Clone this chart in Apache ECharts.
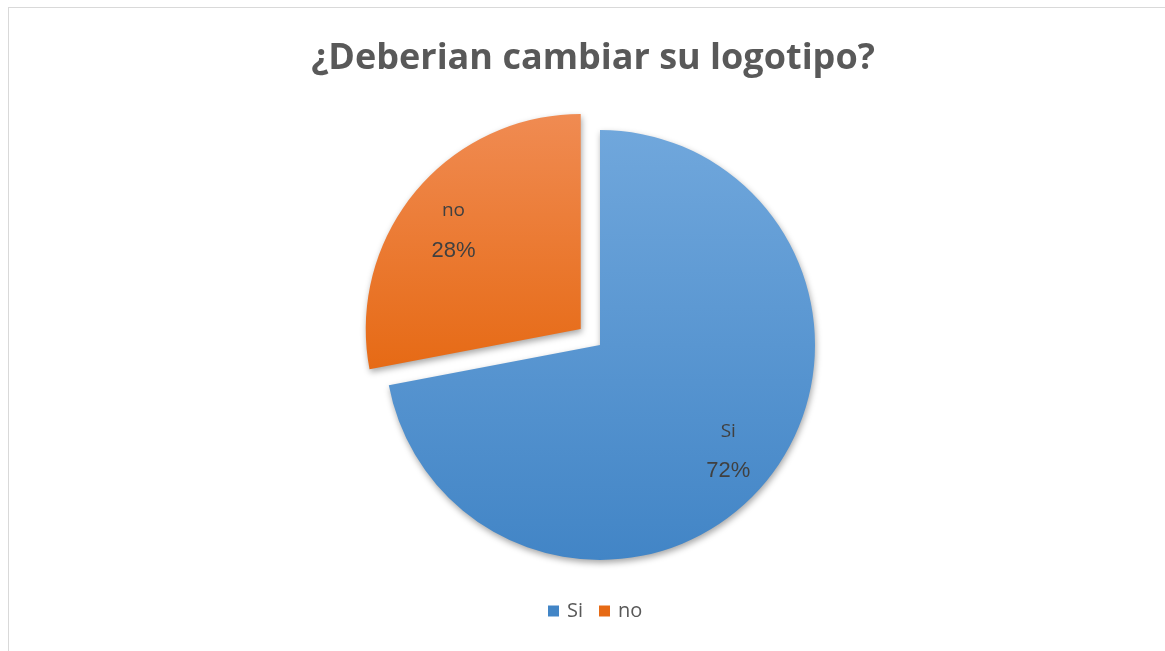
<!DOCTYPE html>
<html><head><meta charset="utf-8">
<script src="https://cdn.jsdelivr.net/npm/echarts@6/dist/echarts.min.js"></script>
<style>html,body{margin:0;padding:0;background:#fff}#c{width:1165px;height:651px}
#frame{position:absolute;left:8px;top:7px;width:1200px;height:700px;border-left:1px solid #d9d9d9;border-top:1px solid #d9d9d9;pointer-events:none}</style>
</head><body><div id="c"></div><div id="frame"></div>
<script>
var titleText = '¿Deberian cambiar su logotipo?';
var categories = ['Si', 'no'];
var values = [72, 28];
var explodedCategory = 'no';

var gradients = {
  'Si': ['#70a7dc', '#4285c6'],
  'no': ['#f08b52', '#e66a15']
};
function grad(name) {
  return new echarts.graphic.LinearGradient(0, 0, 0, 1, [
    {offset: 0, color: gradients[name][0]},
    {offset: 1, color: gradients[name][1]}
  ]);
}
var pieData = categories.map(function (c, i) {
  return {name: c, value: values[i], selected: c === explodedCategory,
    itemStyle: {color: grad(c)}};
});
var labelData = categories.map(function (c, i) {
  var sel = c === explodedCategory;
  var off = sel ? [1, 8] : [0, 0];
  return {name: c, value: values[i], selected: sel,
    label: {offset: off}, select: {label: {offset: off}}};
});

var chart = echarts.init(document.getElementById('c'));
chart.setOption({
  animation: false,
  title: {
    text: titleText, left: 588, top: 36, textAlign: 'center',
    textStyle: {fontFamily: 'Open Sans', fontWeight: 'bold', fontSize: 36, color: '#595959'}
  },
  legend: {
    top: 596, left: 543, itemWidth: 11, itemHeight: 11, itemGap: 16,
    icon: 'rect',
    data: categories.map(function (c) {
      return {name: c, itemStyle: {color: gradients[c][1]}};
    }),
    textStyle: {fontFamily: 'Open Sans', fontSize: 20, color: '#595959', padding: [0, 0, 0, 3]}
  },
  series: [{
    type: 'pie',
    center: [600, 345],
    radius: 215,
    startAngle: 90,
    clockwise: true,
    selectedMode: 'single',
    selectedOffset: 25,
    label: {show: false},
    labelLine: {show: false},
    itemStyle: {shadowBlur: 6, shadowColor: 'rgba(0,0,0,0.35)', shadowOffsetX: 1, shadowOffsetY: 3},
    emphasis: {disabled: true},
    select: {itemStyle: {}},
    data: pieData
  }, {
    type: 'pie',
    center: [600, 345],
    radius: [112, 215],
    startAngle: 90,
    clockwise: true,
    selectedMode: 'single',
    selectedOffset: 25,
    silent: true,
    legendHoverLink: false,
    itemStyle: {color: 'rgba(0,0,0,0)'},
    emphasis: {disabled: true},
    label: {
      show: true, position: 'inside',
      formatter: '{n|{b}}\n{p|{d}%}',
      rich: {
        n: {fontFamily: 'Open Sans', fontSize: 19, color: '#404040', lineHeight: 40},
        p: {fontFamily: 'Liberation Sans', fontSize: 22, color: '#404040', lineHeight: 40}
      }
    },
    labelLine: {show: false},
    data: labelData
  }]
});
</script>
</body></html>
